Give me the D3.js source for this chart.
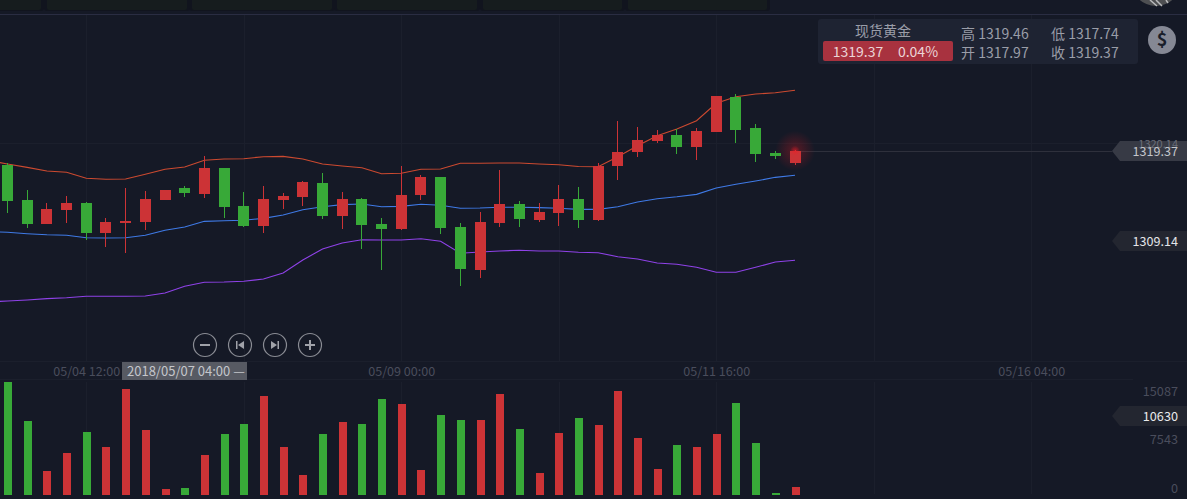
<!DOCTYPE html>
<html>
<head>
<meta charset="utf-8">
<script src="https://cdn.jsdelivr.net/npm/d3@7"></script>
<style>
    html, body { margin: 0; padding: 0; background: #151926; overflow: hidden; }
    svg { display: block; }
    text { font-family: "Noto Sans CJK SC", "Noto Sans", sans-serif; }
</style>
</head>
<body>
<svg id="chart" width="1187" height="499"></svg>
<script>
const opens = [1317.72,1313.76,1311.07,1312.65,1313.45,1310.05,1311.18,1311.29,1313.79,1315.15,1314.47,1317.42,1313.11,1310.84,1313.79,1314.13,1315.72,1311.97,1313.90,1311.07,1310.50,1314.36,1316.40,1310.73,1305.85,1311.18,1313.34,1311.52,1312.31,1313.90,1311.52,1317.64,1319.23,1320.48,1321.16,1319.80,1321.50,1325.47,1321.95,1319.12,1317.97];
const highs = [1317.98,1314.92,1313.45,1314.24,1313.56,1311.75,1315.15,1314.81,1314.92,1315.38,1318.78,1317.42,1314.70,1315.38,1314.58,1315.94,1316.85,1314.70,1314.02,1311.75,1317.64,1316.62,1316.40,1311.18,1312.43,1317.19,1313.68,1313.45,1315.49,1315.26,1317.98,1322.75,1322.07,1321.73,1321.84,1321.95,1325.58,1325.81,1322.41,1319.34,1319.46];
const lows = [1312.31,1310.61,1311.07,1311.18,1309.25,1308.46,1307.78,1310.39,1313.79,1314.13,1314.02,1311.75,1310.73,1310.05,1312.77,1313.11,1311.63,1310.50,1308.23,1305.85,1310.39,1313.79,1309.93,1304.04,1304.95,1310.73,1310.73,1311.29,1310.84,1310.61,1311.41,1316.06,1318.66,1320.25,1319.00,1318.32,1321.50,1320.25,1318.10,1318.44,1317.74];
const closes = [1313.68,1311.07,1312.73,1313.45,1310.05,1311.29,1311.41,1313.90,1314.92,1314.58,1317.42,1312.99,1310.84,1313.90,1314.24,1315.83,1311.97,1313.90,1310.95,1310.50,1314.36,1316.40,1310.61,1305.96,1311.29,1313.34,1311.63,1312.43,1313.90,1311.52,1317.64,1319.23,1320.59,1321.16,1319.80,1321.61,1325.58,1321.73,1319.00,1318.78,1319.37];
const volumes = [17572,11507,3732,6531,9797,7464,16483,10108,933,1089,6220,9486,11041,15395,7464,3110,9486,11352,11041,14928,14151,3888,12440,11663,11663,15706,10263,3421,9641,11974,10885,16172,8864,4043,7775,7464,9486,14306,8086,311,1244];

// bands start one candle before the first visible one
const bandUpper = [1318.27,1317.87,1317.49,1317.08,1316.93,1316.25,1316.14,1316.17,1316.70,1317.27,1317.53,1318.29,1318.44,1318.47,1318.70,1318.74,1318.44,1317.87,1317.64,1317.45,1316.77,1316.82,1317.27,1317.30,1317.95,1317.95,1317.98,1317.98,1317.87,1317.79,1317.59,1317.56,1318.70,1319.94,1321.08,1321.84,1322.78,1324.75,1325.50,1325.81,1325.95,1326.23];
const bandMid = [1310.22,1310.13,1309.97,1309.85,1309.79,1309.51,1309.48,1309.51,1309.79,1310.35,1310.73,1311.37,1311.44,1311.49,1311.71,1312.09,1312.69,1313.03,1313.26,1313.34,1313.03,1313.07,1313.30,1313.19,1312.85,1312.88,1312.96,1312.96,1312.92,1312.85,1312.73,1312.73,1313.03,1313.56,1313.94,1314.16,1314.43,1315.15,1315.57,1315.94,1316.36,1316.59];
const bandLower = [1302.22,1302.34,1302.45,1302.60,1302.71,1302.87,1302.87,1302.87,1302.90,1303.24,1304.00,1304.46,1304.49,1304.57,1304.83,1305.51,1306.99,1308.23,1308.91,1309.29,1309.25,1309.25,1309.40,1309.11,1307.75,1307.89,1308.01,1308.09,1308.01,1308.01,1307.86,1307.81,1307.36,1307.10,1306.65,1306.50,1306.16,1305.59,1305.59,1306.16,1306.76,1306.95];

const timeTicks = [4, 20, 36, 52];
const timeLabels = ["05/04 12:00", "05/09 00:00", "05/11 16:00", "05/16 04:00"];
const gridTicks = [4, 12, 20, 28, 36, 44, 52];
const volumeTicks = [15087, 7543, 0];

const infoName = "现货黄金";
const infoCols = [["高 1319.46", "开 1317.97"], ["低 1317.74", "收 1319.37"]];

const RED = "#cc3336", GREEN = "#38a938";

const svg = d3.select("#chart");
const x = d3.scaleLinear().domain([0, 40]).range([7.5, 795]);
const y = d3.scaleLinear().domain([1309.14, 1320.14]).range([241, 144]);
const yVol = d3.scaleLinear().domain([0, 15087]).range([495, 398]);

const defs = svg.append("defs");
const glow = defs.append("radialGradient").attr("id", "glow");
glow.append("stop").attr("offset", "0%").attr("stop-color", "#e01a22").attr("stop-opacity", 0.34);
glow.append("stop").attr("offset", "100%").attr("stop-color", "#e01a22").attr("stop-opacity", 0);
const dot = defs.append("radialGradient").attr("id", "dot");
dot.append("stop").attr("offset", "0%").attr("stop-color", "#ee1c26").attr("stop-opacity", 0.6);
dot.append("stop").attr("offset", "100%").attr("stop-color", "#ee1c26").attr("stop-opacity", 0);

//top strip
const tabs = [[-100, 141], [47, 140], [192, 140], [337, 140], [483, 139], [628, 139]];
svg.append("g").selectAll("rect").data(tabs).join("rect")
    .attr("x", d => d[0] - 3).attr("y", -4).attr("width", d => d[1] + 6).attr("height", 15).attr("rx", 3)
    .attr("fill", "#11141e");
svg.append("g").selectAll("rect").data(tabs).join("rect")
    .attr("x", d => d[0]).attr("y", -4).attr("width", d => d[1]).attr("height", 14).attr("rx", 2)
    .attr("fill", "#161c1e");
svg.append("circle").attr("cx", 1156).attr("cy", -19).attr("r", 25).attr("fill", "#4e4f52");
svg.append("path").attr("d", "M1150,0L1157,6M1156,0L1162,6M1166,0L1168,3").attr("stroke", "#b9babc").attr("stroke-width", 1.5);
svg.append("rect").attr("y", 14).attr("width", 1187).attr("height", 1).attr("fill", "#2a2d42");

//grid
const grid = svg.append("g").attr("stroke", "#1b1f2c").attr("shape-rendering", "crispEdges");
grid.selectAll(".v1").data(gridTicks).join("line")
    .attr("x1", d => Math.round(x(d)) + 0.5).attr("x2", d => Math.round(x(d)) + 0.5)
    .attr("y1", 15).attr("y2", 361);
grid.selectAll(".v2").data(gridTicks).join("line")
    .attr("x1", d => Math.round(x(d)) + 0.5).attr("x2", d => Math.round(x(d)) + 0.5)
    .attr("y1", 382).attr("y2", 494);
grid.append("line").attr("x1", 0).attr("x2", 1187).attr("y1", 143.5).attr("y2", 143.5);
grid.append("line").attr("x1", 0).attr("x2", 1187).attr("y1", 361.5).attr("y2", 361.5);
grid.append("line").attr("x1", 0).attr("x2", 1133).attr("y1", 379.5).attr("y2", 379.5);

//info panel
const info = svg.append("g");
info.append("rect").attr("x", 818).attr("y", 19).attr("width", 320).attr("height", 45).attr("rx", 3).attr("fill", "#1e2332");
info.append("text").attr("x", 883).attr("y", 36).attr("text-anchor", "middle")
    .attr("font-size", 14).attr("fill", "#9a9da8").text(infoName);
info.append("rect").attr("x", 823).attr("y", 41).attr("width", 130).attr("height", 20).attr("rx", 2).attr("fill", "#a8323f");
info.append("text").attr("x", 858).attr("y", 57).attr("text-anchor", "middle")
    .attr("font-size", 14).attr("fill", "#ecd5d7").text(closes[40].toFixed(2));
info.append("text").attr("x", 918).attr("y", 57).attr("text-anchor", "middle")
    .attr("font-size", 14).attr("fill", "#ecd5d7").text("0.04%");
infoCols.forEach((col, i) => {
    col.forEach((t, j) => {
        info.append("text").attr("x", 961 + i * 90).attr("y", 39 + j * 19)
            .attr("font-size", 14).attr("fill", "#9a9da8").text(t);
    });
});
info.append("circle").attr("cx", 1162).attr("cy", 40).attr("r", 14).attr("fill", "#858894");
info.append("text").attr("x", 1162).attr("y", 46).attr("text-anchor", "middle")
    .attr("font-size", 18).attr("font-weight", 700).attr("fill", "#1a1e2a").text("$");

//current price line
svg.append("line")
    .attr("x1", x(40)).attr("x2", 1112)
    .attr("y1", Math.round(y(closes[40])) + 0.5).attr("y2", Math.round(y(closes[40])) + 0.5)
    .attr("stroke", "#2e303c");

//bollinger lines
const bandLine = d3.line().x((d, i) => x(i - 1)).y(d => y(d));
[[bandUpper, "#cc4a30"], [bandMid, "#3f7ae6"], [bandLower, "#8f42e8"]].forEach(([band, color]) => {
    svg.append("path").datum(band)
        .attr("d", bandLine).attr("fill", "none")
        .attr("stroke", color).attr("stroke-width", 1.1);
});

//glow on the latest candle
svg.append("circle").attr("cx", x(40)).attr("cy", y(closes[40])).attr("r", 20).attr("fill", "url(#glow)");

//candles
const candleColor = i => closes[i] >= opens[i] ? RED : GREEN;
const candleLeft = i => Math.round(x(i) - 5.5);
const candles = svg.append("g").attr("shape-rendering", "crispEdges");
candles.selectAll(".wick").data(d3.range(opens.length)).join("line")
    .attr("x1", i => candleLeft(i) + 5.5).attr("x2", i => candleLeft(i) + 5.5)
    .attr("y1", i => y(highs[i])).attr("y2", i => y(lows[i]))
    .attr("stroke", candleColor);
candles.selectAll(".body").data(d3.range(opens.length)).join("rect")
    .attr("x", candleLeft).attr("width", 11)
    .attr("y", i => y(Math.max(opens[i], closes[i])))
    .attr("height", i => Math.max(1, Math.abs(y(opens[i]) - y(closes[i]))))
    .attr("fill", candleColor);
svg.append("circle").attr("cx", x(40)).attr("cy", y(closes[40])).attr("r", 5).attr("fill", "url(#dot)");

//volume bars
svg.append("g").attr("shape-rendering", "crispEdges")
    .selectAll("rect").data(volumes).join("rect")
    .attr("x", (d, i) => Math.round(x(i) - 3.5)).attr("width", 8)
    .attr("y", d => yVol(d)).attr("height", d => yVol(0) - yVol(d))
    .attr("fill", (d, i) => candleColor(i));

//time axis
const timeAxis = d3.axisBottom(x).tickValues(timeTicks)
    .tickFormat((d, i) => timeLabels[i]).tickSize(0);
const gTime = svg.append("g").attr("transform", "translate(0,362)").call(timeAxis);
gTime.select(".domain").remove();
gTime.selectAll("text").attr("font-family", null).attr("font-size", 12.6).attr("fill", "#4a4d5c").attr("dy", 0).attr("y", 14);

//crosshair time label
svg.append("rect").attr("x", 122).attr("y", 362).attr("width", 125).attr("height", 18).attr("fill", "#575a63");
svg.append("text").attr("x", 127).attr("y", 376).attr("font-size", 13).attr("fill", "#c4c6cb").text("2018/05/07 04:00 —");

//zoom buttons
const buttons = svg.append("g").selectAll("g").data([205, 240, 275, 310]).join("g")
    .attr("transform", d => `translate(${d},345)`);
buttons.append("circle").attr("r", 11.5).attr("fill", "none").attr("stroke", "#8a8c94").attr("stroke-width", 1.2);
buttons.each(function (d, i) {
    const g = d3.select(this);
    if (i === 0 || i === 3) {
        g.append("path").attr("d", i === 0 ? "M-5,0H5" : "M-5,0H5M0,-5V5")
            .attr("stroke", "#a0a2a9").attr("stroke-width", 2);
    } else {
        g.append("path").attr("fill", "#a0a2a9")
            .attr("d", i === 1 ? "M-4,-4H-2.5V4H-4ZM4,-4V4L-2,0Z" : "M4,-4H2.5V4H4ZM-4,-4V4L2,0Z");
    }
});

//right-hand price tags
function tag(cy, fill) {
    svg.append("path")
        .attr("d", `M1112,${cy}L1120,${cy - 10}H1187V${cy + 10}H1120Z`)
        .attr("fill", fill);
}
tag(Math.round(y(1309.14)), "#232630");
tag(Math.round(y(closes[40])), "#373a45");
tag(416, "#232630");

const rightLabel = (py, text, color, size) => svg.append("text")
    .attr("x", 1178).attr("y", py).attr("text-anchor", "end")
    .attr("font-size", size).attr("fill", color).text(text);
rightLabel(y(1320.14) + 3.5, "1320.14", "#6a6d78", 11);
rightLabel(y(closes[40]) + 5.5, closes[40].toFixed(2), "#c4c6cb", 12.6);
rightLabel(y(1309.14) + 5, "1309.14", "#e4e5e8", 12.6);
rightLabel(421, "10630", "#e9eaec", 12.7);
volumeTicks.forEach(v => rightLabel(yVol(v) - 2.5, String(v), "#4a4d5c", 12.7));
</script>
</body>
</html>
